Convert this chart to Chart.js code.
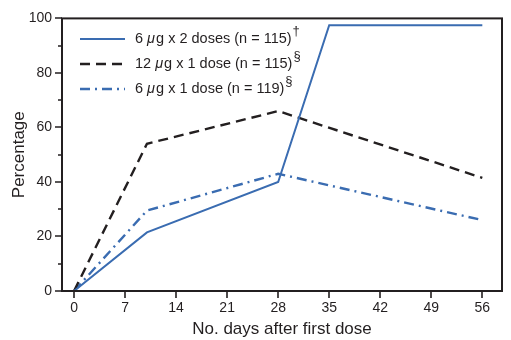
<!DOCTYPE html>
<html>
<head>
<meta charset="utf-8">
<script src="https://cdn.jsdelivr.net/npm/chart.js@4/dist/chart.umd.min.js"></script>
<style>
  html, body { margin: 0; padding: 0; background: #fff; }
  #wrap { width: 511px; height: 340px; }
</style>
</head>
<body>
<div id="wrap"><canvas id="c" width="511" height="340"></canvas></div>
<script>
// Days after first dose at which each group was measured
const daysTwoDose = [0, 10, 28, 35, 56];
const daysOneDose = [0, 10, 28, 56];

// Percentage of subjects responding, by group
const pctSixTwoDoses = [0, 21.5, 40, 97.5, 97.5];
const pctTwelveOneDose = [0, 54, 66, 41.5];
const pctSixOneDose = [0, 29.5, 43, 26];

// Legend labels and their footnote marks
const seriesLabels = ['6 μg x 2 doses (n = 115)', '12 μg x 1 dose (n = 115)', '6 μg x 1 dose (n = 119)'];
const footnoteMarks = ['†', '§', '§'];

// Axis ticks
const xTickValues = [0, 7, 14, 21, 28, 35, 42, 49, 56];
const yMajorTicks = [0, 20, 40, 60, 80, 100];
const yMinorTicks = [10, 30, 50, 70, 90];

const INK = '#231f20';
const BLUE = '#3a6cb1';
const FONT = '"Liberation Sans", Arial, Helvetica, sans-serif';

const pts = (xs, ys) => xs.map((x, i) => ({ x: x, y: ys[i] }));

// Frame, axis tick marks and the in-plot legend
const decorations = {
  id: 'decorations',
  afterDraw(chart) {
    const ctx = chart.ctx;
    const a = chart.chartArea;
    const xs = chart.scales.x, ys = chart.scales.y;
    ctx.save();
    ctx.strokeStyle = INK;
    ctx.lineWidth = 2;
    ctx.strokeRect(a.left, a.top, a.right - a.left, a.bottom - a.top);

    ctx.lineWidth = 1.6;
    ctx.beginPath();
    xTickValues.forEach(v => {
      const px = Math.round(xs.getPixelForValue(v));
      ctx.moveTo(px, a.bottom);
      ctx.lineTo(px, a.bottom + 7);
    });
    yMajorTicks.forEach(v => {
      const py = Math.round(ys.getPixelForValue(v));
      ctx.moveTo(a.left, py);
      ctx.lineTo(a.left - 7, py);
    });
    yMinorTicks.forEach(v => {
      const py = Math.round(ys.getPixelForValue(v));
      ctx.moveTo(a.left, py);
      ctx.lineTo(a.left - 4, py);
    });
    ctx.stroke();

    // legend
    const x0 = 80, x1 = 125, tx = 135;
    const rowY = [39, 64, 89];
    chart.data.datasets.forEach((ds, i) => {
      const y = rowY[i];
      ctx.strokeStyle = ds.borderColor;
      ctx.lineWidth = ds.borderWidth;
      ctx.setLineDash(ds.borderDash || []);
      ctx.beginPath();
      ctx.moveTo(x0, y);
      ctx.lineTo(x1, y);
      ctx.stroke();
      ctx.setLineDash([]);

      ctx.fillStyle = INK;
      ctx.textBaseline = 'middle';
      ctx.textAlign = 'left';
      const parts = ds.label.split('μ');
      let cx = tx;
      ctx.font = '14.5px ' + FONT;
      ctx.fillText(parts[0], cx, y);
      cx += ctx.measureText(parts[0]).width;
      ctx.font = 'italic 14.5px ' + FONT;
      ctx.fillText('μ', cx, y);
      cx += ctx.measureText('μ').width + 1;
      ctx.font = '14.5px ' + FONT;
      ctx.fillText(parts[1], cx, y);
      cx += ctx.measureText(parts[1]).width + 1;
      ctx.font = '13px ' + FONT;
      ctx.fillText(footnoteMarks[i], cx, y - 8);
    });
    ctx.restore();
  }
};

new Chart(document.getElementById('c'), {
  type: 'line',
  data: {
    datasets: [
      {
        label: seriesLabels[0],
        data: pts(daysTwoDose, pctSixTwoDoses),
        borderColor: BLUE,
        borderWidth: 2,
        pointRadius: 0
      },
      {
        label: seriesLabels[1],
        data: pts(daysOneDose, pctTwelveOneDose),
        borderColor: INK,
        borderWidth: 2.4,
        borderDash: [10, 6],
        pointRadius: 0
      },
      {
        label: seriesLabels[2],
        data: pts(daysOneDose, pctSixOneDose),
        borderColor: BLUE,
        borderWidth: 2.4,
        borderDash: [10, 5, 2, 5],
        pointRadius: 0
      }
    ]
  },
  options: {
    responsive: false,
    animation: false,
    layout: { padding: { left: 0, right: 9, top: 14, bottom: 0 } },
    plugins: { legend: { display: false }, tooltip: { enabled: false } },
    elements: { line: { tension: 0, borderCapStyle: 'butt' } },
    scales: {
      x: {
        type: 'linear',
        min: -1.65,
        max: 58.7,
        afterBuildTicks: s => { s.ticks = xTickValues.map(v => ({ value: v })); },
        afterFit: s => { s.height = 49; },
        grid: { display: false, drawTicks: false },
        border: { display: false },
        ticks: { color: INK, font: { family: FONT, size: 14 }, padding: 9, maxRotation: 0 },
        title: {
          display: true,
          text: 'No. days after first dose',
          color: INK,
          font: { family: FONT, size: 17 },
          padding: { top: 1, bottom: 0 }
        }
      },
      y: {
        min: 0,
        max: 100,
        afterBuildTicks: s => { s.ticks = yMajorTicks.map(v => ({ value: v })); },
        afterFit: s => { s.width = 62; },
        grid: { display: false, drawTicks: false },
        border: { display: false },
        ticks: { color: INK, font: { family: FONT, size: 14 }, padding: 10 },
        title: {
          display: true,
          text: 'Percentage',
          color: INK,
          font: { family: FONT, size: 17 },
          padding: { top: 9, bottom: 0 }
        }
      }
    }
  },
  plugins: [decorations]
});
</script>
</body>
</html>
